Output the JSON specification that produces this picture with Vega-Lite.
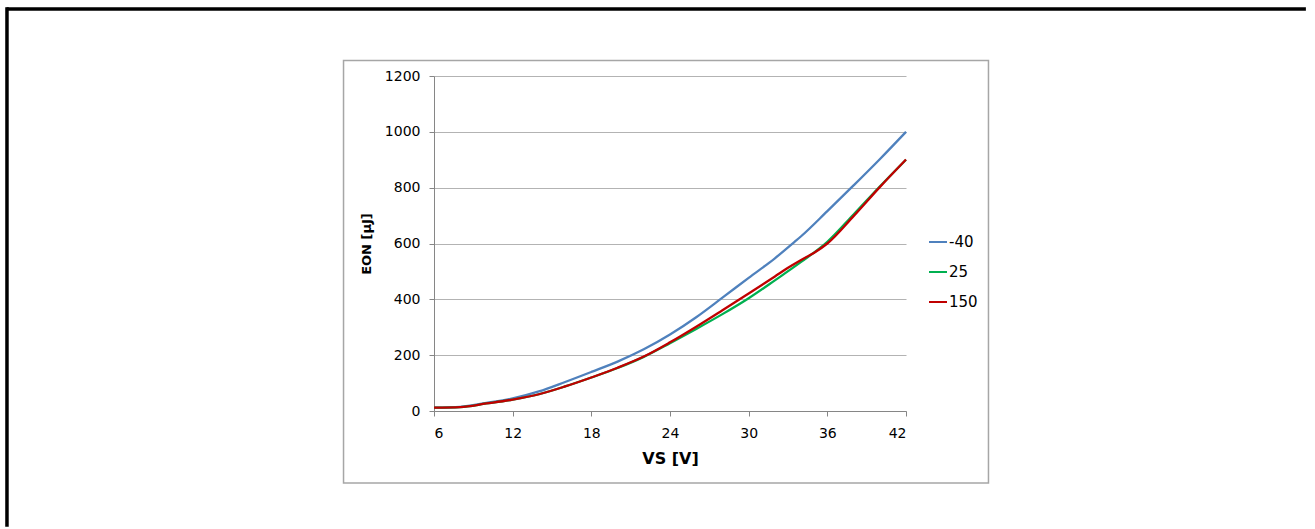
{
  "$schema": "https://vega.github.io/schema/vega-lite/v6.json",
  "width": 472,
  "height": 335,
  "autosize": {"type": "none"},
  "padding": {"left": 434, "top": 76, "right": 409, "bottom": 118},
  "background": "white",
  "config": {
    "font": "DejaVu Sans",
    "view": {"stroke": null},
    "axis": {"labelFont": "DejaVu Sans", "titleFont": "DejaVu Sans", "labelColor": "black", "titleColor": "black"},
    "legend": {"labelFont": "DejaVu Sans"}
  },
  "datasets": {
    "curves": [
      {"V": 6, "E": 12, "T": "-40"}, {"V": 8, "E": 15, "T": "-40"}, {"V": 10, "E": 29, "T": "-40"}, {"V": 12, "E": 45, "T": "-40"},
      {"V": 14, "E": 70, "T": "-40"}, {"V": 16, "E": 104, "T": "-40"}, {"V": 18, "E": 140, "T": "-40"}, {"V": 20, "E": 177, "T": "-40"},
      {"V": 22, "E": 221, "T": "-40"}, {"V": 24, "E": 274, "T": "-40"}, {"V": 26, "E": 336, "T": "-40"}, {"V": 28, "E": 406, "T": "-40"},
      {"V": 30, "E": 477, "T": "-40"}, {"V": 32, "E": 547, "T": "-40"}, {"V": 33.5, "E": 606, "T": "-40"}, {"V": 34, "E": 626, "T": "-40"},
      {"V": 36, "E": 716, "T": "-40"}, {"V": 38, "E": 808, "T": "-40"}, {"V": 40, "E": 902, "T": "-40"}, {"V": 42, "E": 1000, "T": "-40"},
      {"V": 6, "E": 12, "T": "25"}, {"V": 8, "E": 14, "T": "25"}, {"V": 10, "E": 27, "T": "25"}, {"V": 12, "E": 41, "T": "25"},
      {"V": 14, "E": 60, "T": "25"}, {"V": 16, "E": 88, "T": "25"}, {"V": 18, "E": 120, "T": "25"}, {"V": 20, "E": 154, "T": "25"},
      {"V": 22, "E": 194, "T": "25"}, {"V": 24, "E": 243, "T": "25"}, {"V": 26, "E": 294, "T": "25"}, {"V": 28, "E": 347, "T": "25"},
      {"V": 30, "E": 404, "T": "25"}, {"V": 32, "E": 468, "T": "25"}, {"V": 34, "E": 534, "T": "25"}, {"V": 36, "E": 606, "T": "25"},
      {"V": 38, "E": 704, "T": "25"}, {"V": 40, "E": 804, "T": "25"}, {"V": 42, "E": 900, "T": "25"},
      {"V": 6, "E": 12, "T": "150"}, {"V": 8, "E": 14, "T": "150"}, {"V": 10, "E": 27, "T": "150"}, {"V": 12, "E": 41, "T": "150"},
      {"V": 14, "E": 60, "T": "150"}, {"V": 16, "E": 88, "T": "150"}, {"V": 18, "E": 120, "T": "150"}, {"V": 20, "E": 155, "T": "150"},
      {"V": 22, "E": 195, "T": "150"}, {"V": 24, "E": 246, "T": "150"}, {"V": 26, "E": 302, "T": "150"}, {"V": 28, "E": 361, "T": "150"},
      {"V": 30, "E": 421, "T": "150"}, {"V": 32, "E": 482, "T": "150"}, {"V": 33, "E": 513, "T": "150"}, {"V": 34, "E": 541, "T": "150"},
      {"V": 35, "E": 567, "T": "150"}, {"V": 36, "E": 600, "T": "150"}, {"V": 38, "E": 698, "T": "150"}, {"V": 40, "E": 802, "T": "150"},
      {"V": 42, "E": 901, "T": "150"}
    ]
  },
  "layer": [
    {
      "data": {"values": [{}]},
      "mark": {"type": "rect", "fill": null, "stroke": "#A6A6A6", "strokeWidth": 1.5},
      "encoding": {
        "x": {"datum": -0.9, "type": "quantitative"},
        "x2": {"datum": 48.29},
        "y": {"datum": 1255.5, "type": "quantitative"},
        "y2": {"datum": -258}
      }
    },
    {
      "data": {"values": [{}]},
      "mark": {"type": "rule", "stroke": "black", "strokeWidth": 3.5},
      "encoding": {
        "x": {"datum": -26.6, "type": "quantitative"},
        "x2": {"datum": 72.5},
        "y": {"datum": 1440, "type": "quantitative"}
      }
    },
    {
      "data": {"values": [{}]},
      "mark": {"type": "rule", "stroke": "black", "strokeWidth": 3.5},
      "encoding": {
        "x": {"datum": -26.57, "type": "quantitative"},
        "y": {"datum": 1446, "type": "quantitative"},
        "y2": {"datum": -415}
      }
    },
    {
      "data": {"name": "curves"},
      "mark": {"type": "line", "strokeWidth": 2.3, "interpolate": "monotone"},
      "encoding": {
        "x": {
          "field": "V", "type": "quantitative",
          "scale": {"domain": [6, 42], "nice": false, "zero": false},
          "axis": {
            "title": "VS [V]", "values": [6, 12, 18, 24, 30, 36, 42],
            "grid": false, "domainColor": "#868686", "domainWidth": 1,
            "tickColor": "#868686", "tickSize": 5, "labelFontSize": 14, "labelPadding": 10,
            "titleFontSize": 16, "titleFontWeight": "bold", "titlePadding": 10
          }
        },
        "y": {
          "field": "E", "type": "quantitative",
          "scale": {"domain": [0, 1200], "nice": false},
          "axis": {
            "title": "EON [µJ]", "values": [0, 200, 400, 600, 800, 1000, 1200], "format": "d",
            "grid": true, "gridColor": "#B3B3B3", "gridWidth": 1,
            "domainColor": "#868686", "domainWidth": 1,
            "tickColor": "#868686", "tickSize": 5, "labelFontSize": 14, "labelPadding": 9,
            "titleFontSize": 13, "titleFontWeight": "bold", "titlePadding": 11
          }
        },
        "color": {
          "field": "T", "type": "nominal", "sort": ["-40", "25", "150"],
          "scale": {"domain": ["-40", "25", "150"], "range": ["#4F81BD", "#00B050", "#C00000"]},
          "legend": {
            "title": null, "orient": "none", "legendX": 494, "legendY": 156,
            "symbolType": "stroke", "symbolSize": 324, "symbolStrokeWidth": 2,
            "labelFontSize": 15, "labelColor": "black", "labelOffset": 1, "rowPadding": 12
          }
        }
      }
    }
  ]
}
